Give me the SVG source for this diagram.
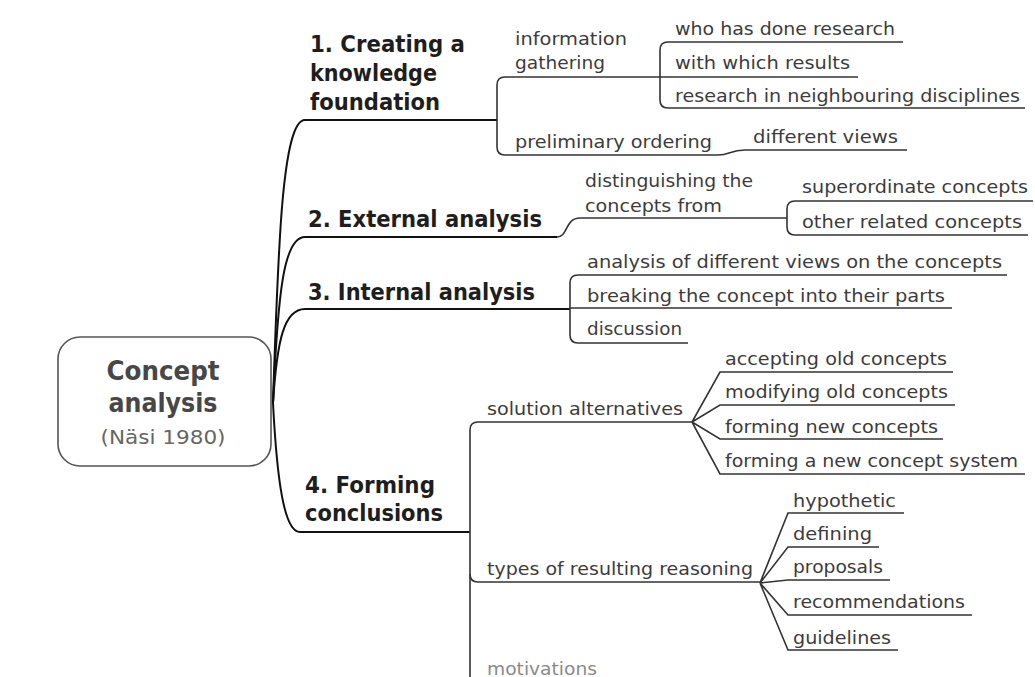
<svg xmlns="http://www.w3.org/2000/svg" width="1035" height="677" viewBox="0 0 1035 677">
<style>
.main{font-family:"DejaVu Sans",Verdana,sans-serif;font-size:23px;font-weight:bold;fill:#1e1e1e}
.sub{font-family:"DejaVu Sans",Verdana,sans-serif;font-size:17px;fill:#3c3c3c}
.root{font-family:"DejaVu Sans",Verdana,sans-serif;font-size:27px;font-weight:bold;fill:#474747;text-anchor:middle}
.rootsub{font-family:"DejaVu Sans",Verdana,sans-serif;font-size:19px;fill:#666;text-anchor:middle}
.trunk{fill:none;stroke:#111;stroke-width:2}
.ln{fill:none;stroke:#333;stroke-width:1.6}
</style>
<rect width="1035" height="677" fill="#fff"/>
<g id="connectors">
<path class="trunk" d="M273 403 C278 250 282 120 305 120 H497"/>
<path class="trunk" d="M273 403 C278 290 284 237 305 237 H557"/>
<path class="trunk" d="M273 403 C277 340 284 309 305 309 H570"/>
<path class="trunk" d="M273 403 C277 480 284 532 300 532 H470"/>
<path class="ln" d="M660 77 H505 Q497 77 497 85 V147 Q497 155 505 155 H718 C730 155 730 150 745 150 H907"/>
<path class="ln" d="M903 42 H668 Q660 42 660 50 V100 Q660 108 668 108 H1025"/>
<path class="ln" d="M660 77 H858"/>
<path class="ln" d="M557 237 C568 237 565 218 580 218 H787"/>
<path class="ln" d="M1033 201 H795 Q787 201 787 209 V227 Q787 235 795 235 H1028"/>
<path class="ln" d="M1007 275 H578 Q570 275 570 283 V335 Q570 343 578 343 H688"/>
<path class="ln" d="M570 308 H952"/>
<path class="ln" d="M692 422 H478 Q470 422 470 430 V677"/>
<path class="ln" d="M470 574 Q470 582 478 582 H760"/>
<path class="ln" d="M692 422 L720 372 H953 M692 422 L720 405 H955 M692 422 L720 439 H943 M692 422 L720 474 H1025"/>
<path class="ln" d="M760 583 L788 513 H904 M760 583 L788 547 H879 M760 583 L788 580 H890 M760 583 L788 615 H972 M760 583 L788 650 H898"/>
</g>
<g id="root">
<rect x="58" y="337" width="213" height="129" rx="22" fill="#fff" stroke="#555" stroke-width="1.6"/>
<text class="root" x="163" y="380" textLength="113" lengthAdjust="spacingAndGlyphs">Concept</text>
<text class="root" x="163" y="412" textLength="109" lengthAdjust="spacingAndGlyphs">analysis</text>
<text class="rootsub" x="163" y="444" textLength="125" lengthAdjust="spacingAndGlyphs">(Näsi 1980)</text>
</g>
<g id="branch1">
<text class="main" x="310" y="52" textLength="155" lengthAdjust="spacingAndGlyphs">1. Creating a</text>
<text class="main" x="310" y="81" textLength="127" lengthAdjust="spacingAndGlyphs">knowledge</text>
<text class="main" x="310" y="110" textLength="130" lengthAdjust="spacingAndGlyphs">foundation</text>
</g>
<g id="info-gathering">
<text class="sub" x="515" y="45" textLength="112" lengthAdjust="spacingAndGlyphs">information</text>
<text class="sub" x="515" y="69" textLength="90" lengthAdjust="spacingAndGlyphs">gathering</text>
</g>
<g id="who"><text class="sub" x="675" y="35" textLength="220" lengthAdjust="spacingAndGlyphs">who has done research</text></g>
<g id="which"><text class="sub" x="675" y="69" textLength="175" lengthAdjust="spacingAndGlyphs">with which results</text></g>
<g id="neighbouring"><text class="sub" x="675" y="102" textLength="345" lengthAdjust="spacingAndGlyphs">research in neighbouring disciplines</text></g>
<g id="preliminary"><text class="sub" x="515" y="148" textLength="197" lengthAdjust="spacingAndGlyphs">preliminary ordering</text></g>
<g id="views"><text class="sub" x="753" y="143" textLength="145" lengthAdjust="spacingAndGlyphs">different views</text></g>
<g id="branch2"><text class="main" x="308" y="227" textLength="234" lengthAdjust="spacingAndGlyphs">2. External analysis</text></g>
<g id="distinguishing">
<text class="sub" x="585" y="187" textLength="168" lengthAdjust="spacingAndGlyphs">distinguishing the</text>
<text class="sub" x="585" y="212" textLength="137" lengthAdjust="spacingAndGlyphs">concepts from</text>
</g>
<g id="superordinate"><text class="sub" x="802" y="193" textLength="226" lengthAdjust="spacingAndGlyphs">superordinate concepts</text></g>
<g id="related"><text class="sub" x="802" y="228" textLength="220" lengthAdjust="spacingAndGlyphs">other related concepts</text></g>
<g id="branch3"><text class="main" x="308" y="300" textLength="227" lengthAdjust="spacingAndGlyphs">3. Internal analysis</text></g>
<g id="analysis-views"><text class="sub" x="587" y="268" textLength="415" lengthAdjust="spacingAndGlyphs">analysis of different views on the concepts</text></g>
<g id="breaking"><text class="sub" x="587" y="302" textLength="358" lengthAdjust="spacingAndGlyphs">breaking the concept into their parts</text></g>
<g id="discussion"><text class="sub" x="587" y="335" textLength="95" lengthAdjust="spacingAndGlyphs">discussion</text></g>
<g id="branch4">
<text class="main" x="305" y="493" textLength="130" lengthAdjust="spacingAndGlyphs">4. Forming</text>
<text class="main" x="305" y="521" textLength="138" lengthAdjust="spacingAndGlyphs">conclusions</text>
</g>
<g id="solution"><text class="sub" x="487" y="415" textLength="196" lengthAdjust="spacingAndGlyphs">solution alternatives</text></g>
<g id="accepting"><text class="sub" x="725" y="365" textLength="222" lengthAdjust="spacingAndGlyphs">accepting old concepts</text></g>
<g id="modifying"><text class="sub" x="725" y="398" textLength="223" lengthAdjust="spacingAndGlyphs">modifying old concepts</text></g>
<g id="forming-new"><text class="sub" x="725" y="433" textLength="213" lengthAdjust="spacingAndGlyphs">forming new concepts</text></g>
<g id="forming-system"><text class="sub" x="725" y="467" textLength="293" lengthAdjust="spacingAndGlyphs">forming a new concept system</text></g>
<g id="types"><text class="sub" x="487" y="575" textLength="266" lengthAdjust="spacingAndGlyphs">types of resulting reasoning</text></g>
<g id="hypothetic"><text class="sub" x="793" y="507" textLength="103" lengthAdjust="spacingAndGlyphs">hypothetic</text></g>
<g id="defining"><text class="sub" x="793" y="540" textLength="79" lengthAdjust="spacingAndGlyphs">defining</text></g>
<g id="proposals"><text class="sub" x="793" y="573" textLength="90" lengthAdjust="spacingAndGlyphs">proposals</text></g>
<g id="recommendations"><text class="sub" x="793" y="608" textLength="172" lengthAdjust="spacingAndGlyphs">recommendations</text></g>
<g id="guidelines"><text class="sub" x="793" y="644" textLength="98" lengthAdjust="spacingAndGlyphs">guidelines</text></g>
<g id="motivations"><text class="sub" x="487" y="675" textLength="110" lengthAdjust="spacingAndGlyphs" style="fill:#8a8a8a">motivations</text></g>
</svg>
